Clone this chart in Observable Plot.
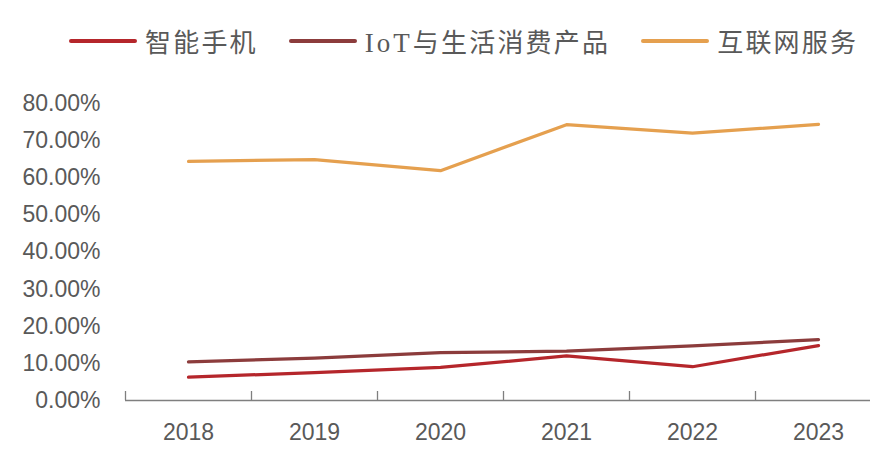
<!DOCTYPE html>
<html>
<head>
<meta charset="utf-8">
<script src="https://cdn.jsdelivr.net/npm/d3@7"></script>
<script src="https://cdn.jsdelivr.net/npm/@observablehq/plot@0.6"></script>
<style>
  html, body { margin: 0; padding: 0; background: #fff; overflow: hidden; }
  #wrap { position: relative; width: 870px; height: 455px; }
  #legend { position: absolute; left: 69px; top: 22px; display: flex; align-items: center; white-space: nowrap; width: max-content;
    font-family: "Noto Sans CJK SC", sans-serif; font-size: 26px; color: #595959; letter-spacing: 2.2px; }
  .item { display: flex; align-items: center; margin-right: 31px; }
  .sw { width: 68px; height: 4px; margin-right: 8px; border-radius: 2px; }
  .latin { font-family: "Liberation Serif", serif; font-size: 27px; letter-spacing: 3px; }
</style>
</head>
<body>
<div id="wrap">
  <div id="legend"></div>
  <div id="chart"></div>
</div>
<script>
const years = [2018, 2019, 2020, 2021, 2022, 2023];
const bandEdges = [2017.5, 2018.5, 2019.5, 2020.5, 2021.5, 2022.5, 2023.5];
const yTicks = [0, 10, 20, 30, 40, 50, 60, 70, 80];
const seriesNames = ["智能手机", "IoT与生活消费产品", "互联网服务"];
const smartphone = [6.3, 7.5, 8.9, 12.0, 9.1, 14.8];
const iot = [10.4, 11.4, 12.9, 13.3, 14.7, 16.4];
const internet = [64.4, 64.9, 61.9, 74.3, 72.0, 74.4];
const colors = ["#B5262B", "#8C3C3C", "#E5A04F"];

const seriesValues = [smartphone, iot, internet];
const data = seriesValues.flatMap((vals, i) =>
  vals.map((v, j) => ({ year: years[j], value: v, series: seriesNames[i] })));

const legend = document.getElementById("legend");
seriesNames.forEach((name, i) => {
  const item = document.createElement("div");
  item.className = "item";
  const sw = document.createElement("div");
  sw.className = "sw";
  sw.style.background = colors[i];
  item.appendChild(sw);
  const t = document.createElement("span");
  const m = name.match(/^([A-Za-z]+)(.*)$/);
  if (m) {
    const l = document.createElement("span");
    l.className = "latin";
    l.textContent = m[1];
    t.appendChild(l);
    t.appendChild(document.createTextNode(m[2]));
  } else {
    t.textContent = name;
  }
  item.appendChild(t);
  legend.appendChild(item);
});

const H = 455, MT = 103, MB = 55;
const chart = Plot.plot({
  width: 870,
  height: H,
  marginLeft: 125,
  marginRight: -11,
  marginTop: MT,
  marginBottom: MB,
  style: { fontFamily: "'Liberation Sans', Arial, sans-serif", fontSize: "23px", color: "#595959", background: "#fff", overflow: "visible" },
  x: { domain: [2017.5, 2023.5], label: null },
  y: { domain: [0, 80], label: null },
  color: { domain: seriesNames, range: colors },
  marks: [
    Plot.axisY({ ticks: yTicks, tickSize: 0, tickPadding: 25, tickFormat: d => d.toFixed(2) + "%", fontSize: 23, fill: "#595959", label: null }),
    Plot.axisX({ ticks: years, tickSize: 0, tickPadding: 23, tickFormat: d => String(d), fontSize: 23, fill: "#595959", label: null }),
    Plot.tickX(bandEdges, { x: d => d, stroke: "#7f7f7f", strokeWidth: 1.3, insetTop: H - MT - MB - 9 }),
    Plot.ruleY([0], { stroke: "#7f7f7f", strokeWidth: 1.5 }),
    Plot.line(data, { x: "year", y: "value", z: "series", stroke: "series", strokeWidth: 3.2, strokeLinejoin: "round", strokeLinecap: "round" })
  ]
});
document.getElementById("chart").appendChild(chart);
</script>
</body>
</html>
